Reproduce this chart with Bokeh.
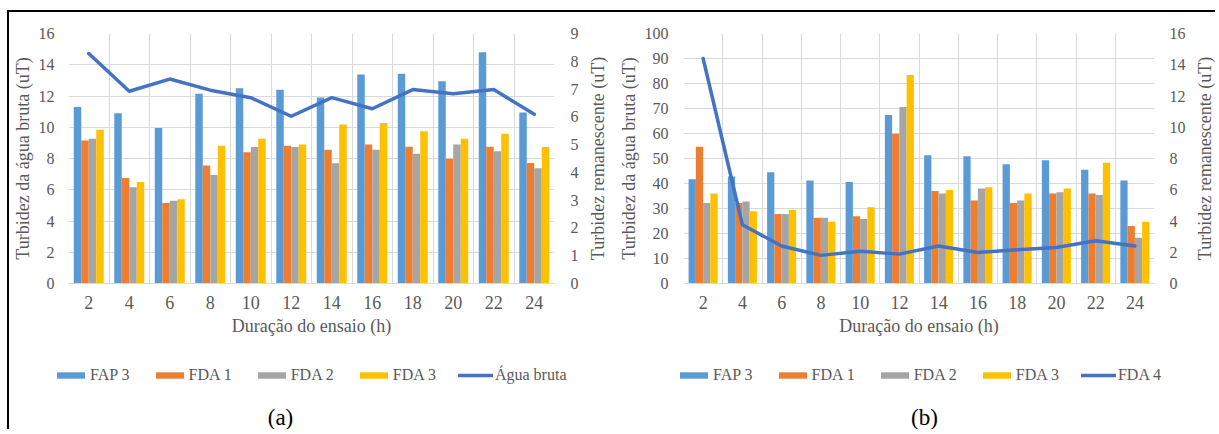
import math
from bokeh.plotting import figure
from bokeh.models import (Range1d, LinearAxis, FixedTicker, Legend, LegendItem,
                          Label, ColumnDataSource)
from bokeh.transform import dodge
from bokeh.layouts import row, column
from bokeh.embed import file_html
from bokeh.resources import INLINE

hours = [2, 4, 6, 8, 10, 12, 14, 16, 18, 20, 22, 24]
hour_labels = [str(h) for h in hours]

# Panel (a)
a_fap3 = [11.3, 10.9, 9.95, 12.15, 12.5, 12.4, 11.9, 13.37, 13.43, 12.94, 14.8, 10.95]
a_fda1 = [9.15, 6.76, 5.15, 7.55, 8.4, 8.81, 8.56, 8.9, 8.75, 7.98, 8.75, 7.72]
a_fda2 = [9.26, 6.16, 5.3, 6.95, 8.73, 8.73, 7.7, 8.56, 8.3, 8.9, 8.47, 7.38]
a_fda3 = [9.84, 6.5, 5.39, 8.81, 9.26, 8.9, 10.18, 10.27, 9.75, 9.26, 9.58, 8.73]
a_agua = [8.28, 6.92, 7.36, 6.96, 6.69, 6.02, 6.69, 6.29, 6.98, 6.83, 6.98, 6.09]

# Panel (b)
b_fap3 = [41.7, 42.8, 44.5, 41.2, 40.6, 67.4, 51.3, 50.9, 47.7, 49.3, 45.5, 41.2]
b_fda1 = [54.7, 32.2, 27.8, 26.3, 26.9, 59.9, 37.0, 33.2, 32.2, 36.0, 36.0, 23.0]
b_fda2 = [32.2, 32.8, 27.8, 26.3, 25.8, 70.6, 36.0, 38.0, 33.2, 36.5, 35.4, 18.3]
b_fda3 = [36.0, 28.9, 29.4, 24.7, 30.5, 83.4, 37.4, 38.5, 36.0, 38.0, 48.3, 24.7]
b_fda4 = [14.4, 3.76, 2.4, 1.8, 2.07, 1.88, 2.4, 1.99, 2.16, 2.31, 2.74, 2.4]

bar_names = ["FAP 3", "FDA 1", "FDA 2", "FDA 3"]
bar_colors = ["#5B9BD5", "#ED7D31", "#A5A5A5", "#FFC000"]
line_color = "#4472C4"
txt = "#595959"
grid_c = "#D9D9D9"
FONT = "Liberation Serif, Times New Roman, serif"
YTICK_FS = "16px"
XTICK_FS = "18px"
TITLE_FS = "18px"
LEG_FS = "16px"
TOP = 21
FRAME_H = 250
BOTTOM = 60
CH_H = TOP + FRAME_H + BOTTOM
LEG_H = 86


def bare_fig(width, height):
    f = figure(width=width, height=height, output_backend="svg", toolbar_location=None,
               x_range=Range1d(0, 1), y_range=Range1d(-2, -1),
               x_axis_location=None, y_axis_location=None, min_border=0)
    f.grid.visible = False
    f.outline_line_color = None
    f.border_fill_color = "white"
    f.background_fill_color = "white"
    f.frame_align = False
    return f


def add_series(p, src, y_name=None):
    offs = [-0.555, -0.185, 0.185, 0.555]
    rs = []
    for i in range(4):
        rs.append(p.vbar(x=dodge("h", offs[i], range=p.x_range), top=f"s{i}",
                         width=0.37, bottom=0, source=src, fill_color=bar_colors[i],
                         line_color=None))
    kw = {"y_range_name": y_name} if y_name else {}
    rs.append(p.line(x="h", y="ln", source=src, line_color=line_color, line_width=3.5,
                     line_join="round", line_cap="round", **kw))
    return rs


def make_panel(series, line_vals, line_name, left_max, left_step, right_max, right_step,
               width, border_l, border_r, l_standoff, l_lab_standoff, r_standoff,
               lab_w, lab_x, tag, tag_x, leg_x):
    src = ColumnDataSource(dict(h=hours, s0=series[0], s1=series[1], s2=series[2],
                                s3=series[3], ln=line_vals))
    p = figure(width=width, height=CH_H, output_backend="svg",
               toolbar_location=None, x_range=Range1d(1, 25),
               y_range=Range1d(0, left_max), min_border_left=border_l,
               min_border_right=border_r, min_border_top=TOP, min_border_bottom=BOTTOM)
    p.extra_y_ranges = {"right": Range1d(0, right_max)}
    p.outline_line_color = None
    p.background_fill_color = "white"
    p.border_fill_color = "white"
    add_series(p, src, "right")

    # axes
    p.xaxis.ticker = FixedTicker(ticks=hours)
    p.xaxis.major_label_overrides = {h: s for h, s in zip(hours, hour_labels)}
    p.xaxis.axis_label = "Duração do ensaio (h)"
    p.yaxis.ticker = FixedTicker(ticks=list(range(0, left_max + 1, left_step)))
    p.yaxis.axis_label = "Turbidez da água bruta (uT)"
    rax = LinearAxis(y_range_name="right",
                     ticker=FixedTicker(ticks=list(range(0, right_max + 1, right_step))))
    p.add_layout(rax, "right")
    for ax in [p.xaxis[0], p.yaxis[0], rax]:
        ax.major_tick_line_color = None
        ax.minor_tick_line_color = None
        ax.major_tick_out = 0
        ax.major_tick_in = 0
        ax.minor_tick_out = 0
        ax.major_label_text_font = FONT
        ax.major_label_text_font_size = YTICK_FS
        ax.major_label_text_color = txt
        ax.axis_label_text_font = FONT
        ax.axis_label_text_font_size = TITLE_FS
        ax.axis_label_text_font_style = "normal"
        ax.axis_label_text_color = txt
    p.xaxis.major_label_text_font_size = XTICK_FS
    p.xaxis.axis_line_color = grid_c
    p.yaxis.axis_line_color = None
    rax.axis_line_color = None
    p.xaxis.major_label_standoff = 12
    p.xaxis.axis_label_standoff = 4
    p.yaxis.major_label_standoff = l_standoff
    p.yaxis.axis_label_standoff = l_lab_standoff
    rax.major_label_standoff = r_standoff

    # grids
    p.xgrid.ticker = FixedTicker(ticks=[h - 1 for h in hours] + [25])
    p.xgrid.grid_line_color = grid_c
    p.ygrid.grid_line_color = grid_c

    # right-hand axis title (reads bottom to top, as in the original)
    lab = bare_fig(lab_w, CH_H)
    lab.add_layout(Label(x=lab_x, y=BOTTOM + FRAME_H / 2, x_units="screen",
                         y_units="screen", text="Turbidez remanescente (uT)",
                         angle=math.pi / 2, text_align="center",
                         text_baseline="middle", text_font=FONT,
                         text_font_size=TITLE_FS, text_color=txt))

    # legend strip + panel tag
    q = bare_fig(width + lab_w, LEG_H)
    keys = add_series(q, src)
    names = bar_names + [line_name]
    items = [LegendItem(label=names[i], renderers=[keys[i]]) for i in range(5)]
    leg = Legend(items=items, orientation="horizontal", location=(leg_x, 45),
                 glyph_width=35, glyph_height=8, label_standoff=2, spacing=22,
                 label_text_font=FONT, label_text_font_size=LEG_FS,
                 label_text_color=txt, border_line_color=None,
                 background_fill_alpha=0, padding=2, margin=0, label_height=18)
    q.add_layout(leg)
    q.add_layout(Label(x=tag_x, y=12, x_units="screen", y_units="screen", text=tag,
                       text_align="center", text_baseline="middle", text_font=FONT,
                       text_font_size="23px", text_color="black"))
    return column(row(p, lab, spacing=0), q, spacing=0)


pa = make_panel([a_fap3, a_fda1, a_fda2, a_fda3], a_agua, "Água bruta", 16, 2, 9, 1,
                572, 59, 25, 14, 3, 16, 29, 16, "(a)", 271, 44)
pb = make_panel([b_fap3, b_fda1, b_fda2, b_fda3], b_fda4, "FDA 4", 100, 10, 16, 2,
                578, 73, 31, 15, 3, 15, 27, 16, "(b)", 314, 66)

lay = row(pa, pb, spacing=0, styles={"border-top": "2px solid black",
                                     "border-left": "2px solid black",
                                     "margin-top": "10px", "margin-left": "7px"})

open("out.html", "w").write(file_html(lay, INLINE))
